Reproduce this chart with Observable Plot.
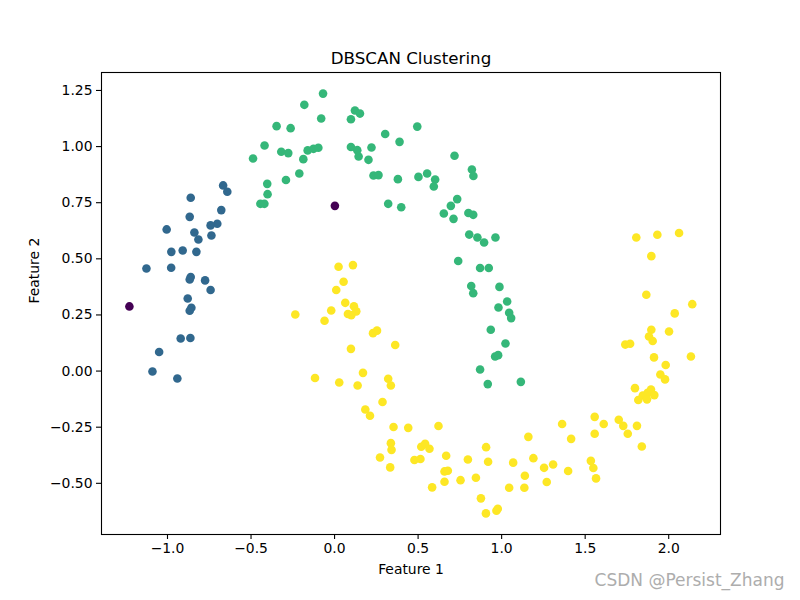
<!DOCTYPE html>
<html>
<head>
<meta charset="utf-8">
<script src="https://cdn.jsdelivr.net/npm/d3@7"></script>
<script src="https://cdn.jsdelivr.net/npm/@observablehq/plot@0.6"></script>
<style>
  html, body { margin: 0; padding: 0; background: #fff; }
  #chart { width: 800px; height: 600px; }
</style>
</head>
<body>
<div id="chart"></div>
<script>
const title = "DBSCAN Clustering";
const xLabel = "Feature 1";
const yLabel = "Feature 2";
const watermark = "CSDN @Persist_Zhang";
const xTicks = [-1.0, -0.5, 0.0, 0.5, 1.0, 1.5, 2.0];
const yTicks = [-0.50, -0.25, 0.00, 0.25, 0.50, 0.75, 1.00, 1.25];
const clusterLabels = [-1, 0, 1, 2];
const clusterColors = ["#440154", "#31688e", "#35b779", "#fde725"];

// noise points (label -1)
const noise = [[-1.228, 0.288], [0.002, 0.736]];

// cluster 0 (left end of upper moon)
const cluster0 = [
  [-0.667, 0.827], [-0.642, 0.799], [-0.861, 0.772], [-0.678, 0.717], [-0.867, 0.687],
  [-0.702, 0.656], [-0.742, 0.649], [-1.005, 0.631], [-0.839, 0.617], [-0.737, 0.604],
  [-0.815, 0.586], [-0.977, 0.531], [-0.909, 0.537], [-0.827, 0.531], [-1.126, 0.457],
  [-0.978, 0.460], [-0.861, 0.419], [-0.867, 0.408], [-0.775, 0.404], [-0.742, 0.361],
  [-0.879, 0.323], [-0.857, 0.282], [-0.867, 0.269], [-0.921, 0.145], [-0.863, 0.147],
  [-1.050, 0.085], [-1.090, -0.002], [-0.941, -0.033]
];

// cluster 1 (upper moon)
const cluster1 = [
  [-0.069, 1.236], [-0.181, 1.186], [-0.080, 1.125], [0.122, 1.161], [0.152, 1.147],
  [0.098, 1.122], [-0.347, 1.091], [-0.263, 1.082], [0.495, 1.089], [0.303, 1.056],
  [0.389, 1.021], [-0.419, 1.005], [-0.319, 0.977], [-0.277, 0.971], [-0.161, 0.983],
  [-0.126, 0.990], [-0.097, 0.995], [-0.187, 0.944], [0.098, 0.998], [0.136, 0.984],
  [0.144, 0.956], [0.221, 0.996], [0.203, 0.941], [-0.488, 0.947], [0.233, 0.871],
  [0.263, 0.873], [0.379, 0.855], [0.502, 0.865], [-0.211, 0.880], [-0.291, 0.851],
  [-0.403, 0.834], [-0.401, 0.788], [-0.444, 0.745], [-0.420, 0.745], [0.321, 0.745],
  [0.399, 0.730], [0.718, 0.959], [0.554, 0.880], [0.602, 0.853], [0.594, 0.822],
  [0.822, 0.898], [0.831, 0.869], [0.734, 0.766], [0.696, 0.736], [0.654, 0.702],
  [0.712, 0.678], [0.801, 0.704], [0.830, 0.696], [0.806, 0.608], [0.855, 0.595],
  [0.895, 0.573], [0.963, 0.595], [0.740, 0.490], [0.871, 0.459], [0.923, 0.459],
  [0.818, 0.379], [0.830, 0.347], [0.987, 0.375], [1.033, 0.310], [0.981, 0.283],
  [1.045, 0.260], [1.057, 0.236], [0.935, 0.184], [1.023, 0.123], [0.961, 0.065],
  [0.979, 0.071], [0.871, 0.007], [0.917, -0.058], [1.115, -0.048]
];

// cluster 2 (lower moon)
const cluster2 = [
  [1.806, 0.595], [1.932, 0.607], [2.062, 0.615], [1.896, 0.512], [1.866, 0.340],
  [2.141, 0.298], [2.036, 0.257], [1.896, 0.184], [2.002, 0.176], [1.882, 0.154],
  [1.904, 0.134], [1.740, 0.118], [1.769, 0.122], [1.912, 0.061], [2.133, 0.065],
  [1.982, 0.027], [1.950, -0.015], [1.978, -0.037], [1.798, -0.076], [1.845, -0.109],
  [1.874, -0.097], [1.894, -0.082], [1.914, -0.107], [1.870, -0.126], [1.818, -0.129],
  [1.557, -0.204], [1.611, -0.236], [1.557, -0.279], [1.701, -0.217], [1.728, -0.244],
  [1.755, -0.279], [1.810, -0.244], [1.839, -0.336], [1.416, -0.302], [1.362, -0.236],
  [1.534, -0.400], [1.549, -0.432], [1.565, -0.478], [1.398, -0.445], [0.622, -0.245],
  [0.519, -0.337], [0.542, -0.324], [0.568, -0.346], [0.478, -0.396], [0.514, -0.392],
  [0.668, -0.377], [0.658, -0.447], [0.678, -0.444], [0.658, -0.493], [0.584, -0.518],
  [0.754, -0.486], [0.798, -0.394], [0.846, -0.475], [0.876, -0.567], [0.906, -0.634],
  [0.969, -0.622], [0.977, -0.613], [0.907, -0.339], [0.919, -0.404], [1.069, -0.408],
  [1.045, -0.520], [1.136, -0.520], [1.139, -0.466], [1.190, -0.388], [1.160, -0.293],
  [1.254, -0.431], [1.308, -0.416], [1.270, -0.494], [0.441, -0.253], [0.287, -0.138],
  [0.184, -0.171], [0.212, -0.199], [0.353, -0.249], [0.337, -0.321], [0.341, -0.351],
  [0.272, -0.385], [0.333, -0.429], [0.024, 0.465], [0.110, 0.472], [0.054, 0.398],
  [0.010, 0.361], [0.064, 0.304], [0.116, 0.289], [0.130, 0.266], [0.080, 0.254],
  [0.100, 0.249], [-0.020, 0.270], [-0.060, 0.224], [-0.235, 0.252], [0.230, 0.169],
  [0.254, 0.180], [0.363, 0.116], [0.098, 0.099], [0.170, -0.008], [-0.117, -0.031],
  [0.028, -0.051], [0.138, -0.064], [0.321, -0.034], [0.337, -0.064]
];

const groups = [noise, cluster0, cluster1, cluster2];
const points = groups.flatMap((arr, i) =>
  arr.map(([x, y]) => ({x, y, label: clusterLabels[i]}))
);

const font = "DejaVu Sans, sans-serif";
const minus = s => s.replace("-", "\u2212");

const chart = Plot.plot({
  width: 800,
  height: 600,
  marginLeft: 101,
  marginRight: 80,
  marginTop: 72,
  marginBottom: 66,
  style: {fontFamily: font, fontSize: "13.9px", color: "black", background: "white", overflow: "visible"},
  x: {domain: [-1.395, 2.31]},
  y: {domain: [-0.728, 1.330]},
  color: {type: "ordinal", domain: clusterLabels, range: clusterColors},
  marks: [
    Plot.dot(points, {x: "x", y: "y", fill: "label", r: 4.3, stroke: "none"}),
    Plot.frame({stroke: "black", strokeWidth: 1.1}),
    Plot.axisX({ticks: xTicks, tickSize: 5, tickPadding: 4, label: null,
      tickFormat: d => minus(d3.format(".1f")(d)), fontSize: 13.9, stroke: "black", strokeWidth: 1.1}),
    Plot.axisY({ticks: yTicks, tickSize: 5, tickPadding: 4, label: null,
      tickFormat: d => minus(d3.format(".2f")(d)), fontSize: 13.9, stroke: "black", strokeWidth: 1.1}),
    Plot.text([title], {frameAnchor: "top", dy: -14, lineAnchor: "middle", fontSize: 16.7, fill: "black"}),
    Plot.text([xLabel], {frameAnchor: "bottom", dy: 35, lineAnchor: "middle", fontSize: 13.9, fill: "black"}),
    Plot.text([yLabel], {frameAnchor: "left", dx: -67, rotate: -90, lineAnchor: "middle", fontSize: 13.9, fill: "black"}),
    Plot.text([watermark], {frameAnchor: "bottom-right", dx: 64, dy: 46, textAnchor: "end", lineAnchor: "middle",
      fontSize: 17, fill: "#adadad", stroke: "white", strokeWidth: 2, paintOrder: "stroke"})
  ]
});
document.getElementById("chart").appendChild(chart);
</script>
</body>
</html>
